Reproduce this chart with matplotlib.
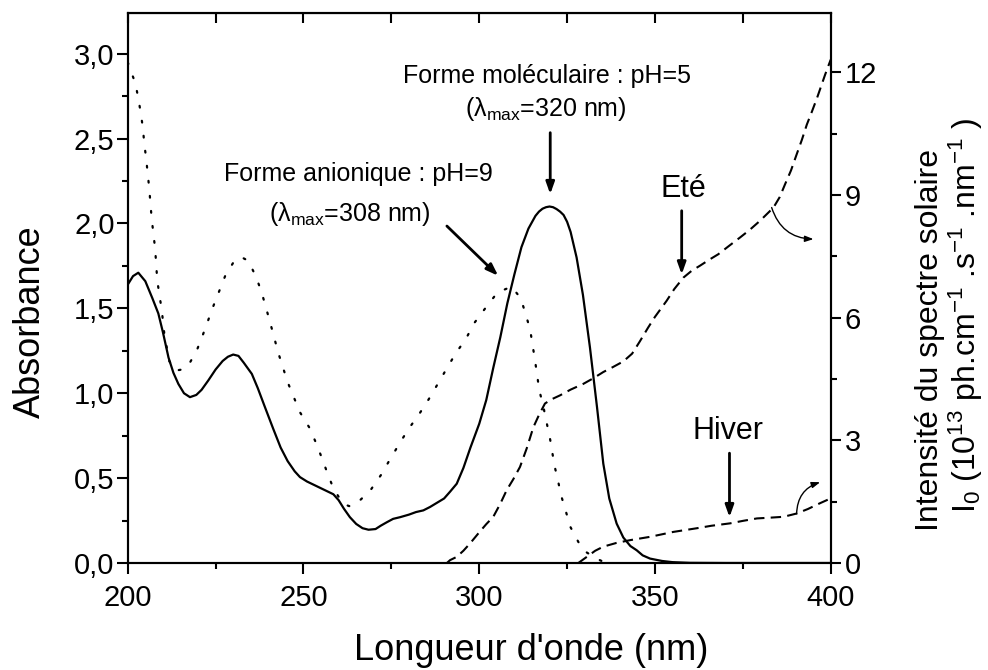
import matplotlib
matplotlib.use("Agg")
import matplotlib.pyplot as plt
from matplotlib.ticker import MultipleLocator, FuncFormatter
import numpy as np

plt.rcParams['font.family'] = ['Liberation Sans', 'DejaVu Sans']
plt.rcParams['mathtext.fontset'] = 'custom'
plt.rcParams['mathtext.rm'] = 'Liberation Sans'
plt.rcParams['mathtext.it'] = 'Liberation Sans:italic'

# molecular form, pH=5 (solid)
mol_x = [200, 201.5, 203, 205, 207, 208.7, 210, 211.6, 213, 214.4, 216, 217.7, 219.5, 221,
         222.9, 225, 227, 228.5, 230, 231.5, 233, 235.3, 237, 239, 241.4, 243.5, 245.5,
         247.5, 249, 251, 253, 255, 257, 258.5, 260, 261.5, 263.2, 265, 266.8, 268.5,
         270.5, 272, 273.7, 275.5, 277.5, 280, 282, 284.1, 286, 288, 290, 291.7, 293.6,
         295.5, 297.5, 300, 302, 304, 306, 308, 310, 312, 314, 316, 317, 318, 319, 320,
         321, 322, 323, 324, 325, 326, 327.7, 329.5, 331.5, 333.5, 335.3, 337, 339.1, 341,
         343, 344.8, 346.5, 348.6, 352, 355, 360, 370, 400]
mol_y = [1.64, 1.69, 1.71, 1.66, 1.56, 1.47, 1.36, 1.21, 1.12, 1.055, 1.00, 0.977, 0.99, 1.02,
         1.075, 1.14, 1.19, 1.215, 1.228, 1.22, 1.18, 1.114, 1.03, 0.92, 0.79, 0.68, 0.60,
         0.54, 0.506, 0.48, 0.46, 0.44, 0.42, 0.405, 0.37, 0.32, 0.27, 0.23, 0.205, 0.196,
         0.20, 0.22, 0.24, 0.26, 0.27, 0.285, 0.30, 0.31, 0.33, 0.355, 0.38, 0.42, 0.467,
         0.56, 0.68, 0.82, 0.96, 1.15, 1.33, 1.53, 1.70, 1.86, 1.97, 2.045, 2.07, 2.087,
         2.096, 2.10, 2.096, 2.085, 2.07, 2.05, 2.01, 1.95, 1.80, 1.58, 1.27, 0.92, 0.585,
         0.38, 0.232, 0.15, 0.10, 0.075, 0.045, 0.026, 0.012, 0.005, 0.001, 0.0, 0.0]

# anionic form, pH=9 (dotted)
ani_x = [200, 200.5, 202.1, 203, 203.7, 204.3, 204.7, 205.2, 205.7, 206.1, 206.8, 207.8,
         208.4, 209.7, 210.4, 211.1, 211.8, 213.5, 215.5, 217.2, 219.6, 221.3, 224.4,
         227.7, 230.5, 232.5, 234.3, 236.5, 238.1, 240.5, 242.8, 245.5, 249, 251.6, 253.6,
         255.2, 256.8, 258.5, 261.2, 263, 265.1, 269.1, 272.1, 274.6, 277.2, 279.8, 283,
         285.7, 288.2, 290.6, 293.3, 296.2, 298.6, 301.7, 305.2, 309.2, 311.8, 313.3,
         314.5, 315.9, 317.1, 318.2, 319, 320, 321.4, 322.4, 323.3, 324.7, 326, 328.2,
         330, 333, 336]
ani_y = [2.95, 2.92, 2.83, 2.74, 2.65, 2.565, 2.47, 2.39, 2.29, 2.21, 2.03, 1.85, 1.663,
         1.486, 1.35, 1.27, 1.19, 1.133, 1.14, 1.163, 1.25, 1.34, 1.516, 1.69, 1.786, 1.80,
         1.78, 1.686, 1.594, 1.418, 1.24, 1.065, 0.888, 0.80, 0.706, 0.62, 0.53, 0.44, 0.35,
         0.335, 0.35, 0.43, 0.52, 0.61, 0.70, 0.787, 0.88, 0.967, 1.055, 1.14, 1.235, 1.32,
         1.414, 1.50, 1.594, 1.628, 1.56, 1.46, 1.373, 1.19, 1.016, 0.928, 0.843, 0.75,
         0.575, 0.486, 0.398, 0.30, 0.21, 0.124, 0.07, 0.03, 0.0]

# solar spectrum, summer (dashed, right axis)
ete_x = [290.8, 291.7, 293.6, 295.5, 297.4, 300, 302, 304, 306, 307.8, 309.7, 311.6, 313.5,
         315.4, 317, 318.7, 320.5, 323, 326, 329.6, 332.5, 335.3, 338, 341, 343.5, 345.7,
         348, 350, 353.3, 355.5, 358.1, 360.5, 362.8, 365.5, 368, 371, 374.2, 377, 379.9,
         383.7, 385.5, 387, 388.7, 390.3, 391.8, 393.2, 394.7, 396.1, 398.4, 400]
ete_y = [0.0, 0.07, 0.15, 0.30, 0.48, 0.75, 0.95, 1.13, 1.45, 1.78, 2.05, 2.35, 2.8, 3.32,
         3.62, 3.9, 4.0, 4.1, 4.24, 4.38, 4.52, 4.67, 4.79, 4.93, 5.12, 5.42, 5.75, 6.02, 6.41,
         6.7, 6.98, 7.15, 7.27, 7.42, 7.55, 7.75, 7.96, 8.15, 8.37, 8.69, 8.95, 9.26, 9.6,
         9.99, 10.35, 10.72, 11.05, 11.37, 11.94, 12.31]

# solar spectrum, winter (dashed, right axis)
hiver_x = [328.2, 330.6, 333, 335.3, 339, 343, 348.6, 355.2, 361.9, 366, 371.4, 375, 379,
           383, 386.6, 390.3, 393.5, 396.9, 400]
hiver_y = [0.0, 0.15, 0.30, 0.40, 0.49, 0.56, 0.64, 0.76, 0.85, 0.91, 0.97, 1.03, 1.09,
           1.11, 1.13, 1.21, 1.32, 1.46, 1.58]

x_ticks = [200, 250, 300, 350, 400]
abs_ticks = [0, 0.5, 1.0, 1.5, 2.0, 2.5, 3.0]
sun_ticks = [0, 3, 6, 9, 12]

fig = plt.figure(figsize=(9.88, 6.70), dpi=100)
ax = fig.add_axes([0.1293, 0.1597, 0.7115, 0.8209])
ax2 = ax.twinx()

ax.plot(mol_x, mol_y, color='black', lw=1.6)
ax.plot(ani_x, ani_y, color='black', lw=1.6, linestyle=(0, (0.8, 6)), dash_capstyle='round')
ax2.plot(ete_x, ete_y, color='black', lw=1.5, linestyle=(0, (5, 3)))
ax2.plot(hiver_x, hiver_y, color='black', lw=1.5, linestyle=(0, (5, 3)))

ax.set_xlim(200, 400)
ax.set_ylim(0, 3.24)
ax2.set_ylim(0, 13.45)

ax.set_xticks(x_ticks)
ax.xaxis.set_minor_locator(MultipleLocator(25))
ax.set_yticks(abs_ticks)
ax.yaxis.set_minor_locator(MultipleLocator(0.25))
ax.yaxis.set_major_formatter(FuncFormatter(lambda v, p: ('%.1f' % v).replace('.', ',')))
ax2.set_yticks(sun_ticks)
ax2.yaxis.set_minor_locator(MultipleLocator(1.5))

for a in (ax, ax2):
    for s in a.spines.values():
        s.set_linewidth(1.5)
ax.tick_params(which='major', direction='out', length=8, width=1.5, labelsize=21)
ax.tick_params(axis='y', which='major', pad=1.5)
ax.tick_params(axis='x', which='major', pad=7)
ax.tick_params(which='minor', direction='out', length=4.5, width=1.5)
ax2.tick_params(which='major', direction='out', length=7, width=1.5, labelsize=21, pad=3)
ax2.tick_params(which='minor', direction='out', length=4.5, width=1.5)

top = ax.secondary_xaxis('top')
top.set_xticks(np.arange(200, 401, 25))
top.tick_params(direction='in', length=7, width=1.5, labeltop=False)
top.xaxis.set_minor_locator(MultipleLocator(1000))

fig.text(531 / 988, 1 - 650 / 670, "Longueur d'onde (nm)", fontsize=26, ha='center', va='center')
fig.text(30 / 988, 1 - 322 / 670, "Absorbance", fontsize=26, ha='center', va='center', rotation=90)
fig.text(930 / 988, 1 - 340 / 670, "Intensité du spectre solaire", fontsize=23,
         ha='center', va='center', rotation=90)
fig.text(966 / 988, 1 - 315 / 670,
         "I$_0$ (10$^{13}$ ph.cm$^{-1}$ .s$^{-1}$ .nm$^{-1}$ )", fontsize=23,
         ha='center', va='center', rotation=90)

# annotations (left axis data coordinates)
ax.text(319.3, 2.87, "Forme moléculaire : pH=5", fontsize=18, ha='center', va='center')
ax.text(319.0, 2.675, "(λ$_{\\mathrm{max}}$=320 nm)", fontsize=18, ha='center', va='center')
ax.text(265.7, 2.29, "Forme anionique : pH=9", fontsize=18, ha='center', va='center')
ax.text(263.2, 2.057, "(λ$_{\\mathrm{max}}$=308 nm)", fontsize=18, ha='center', va='center')
ax.text(358.0, 2.205, "Eté", fontsize=22, ha='center', va='center')
ax.text(370.8, 0.78, "Hiver", fontsize=22, ha='center', va='center')

arrow = dict(arrowstyle='-|>,head_length=0.7,head_width=0.25', color='black', lw=2,
             shrinkA=0, shrinkB=0)
ax.annotate('', xy=(320.2, 2.173), xytext=(320.2, 2.535), arrowprops=arrow)
ax.annotate('', xy=(305.4, 1.692), xytext=(290.8, 1.985), arrowprops=arrow)
ax.annotate('', xy=(357.6, 1.70), xytext=(357.6, 2.075), arrowprops=arrow)
ax.annotate('', xy=(371.2, 0.27), xytext=(371.2, 0.647), arrowprops=arrow)

curve = dict(arrowstyle='-|>,head_length=0.5,head_width=0.18', color='black', lw=1,
             shrinkA=0, shrinkB=0)
ax.annotate('', xy=(395.1, 1.908), xytext=(383.2, 2.094),
            arrowprops=dict(curve, connectionstyle='arc3,rad=0.35'))
ax.annotate('', xy=(397.0, 0.476), xytext=(390.3, 0.29),
            arrowprops=dict(curve, connectionstyle='arc3,rad=-0.35'))

fig.savefig('out.png', dpi=100)
